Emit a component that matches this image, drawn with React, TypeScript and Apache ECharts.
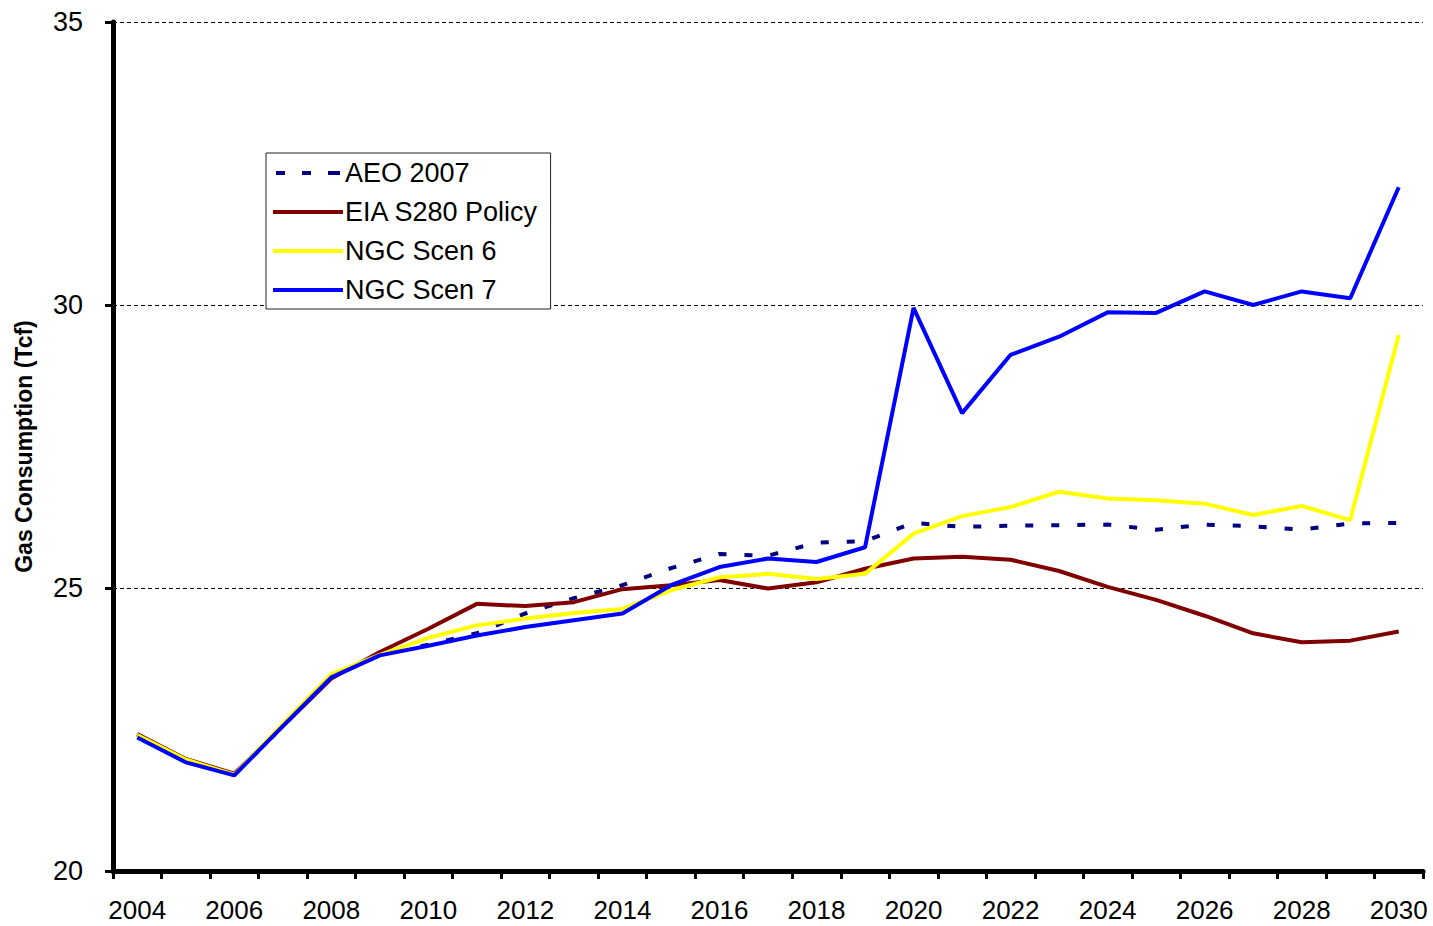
import React, { useEffect, useRef } from "react";
import * as echarts from "echarts";

const years: string[] = [
  "2004", "2005", "2006", "2007", "2008", "2009", "2010", "2011", "2012",
  "2013", "2014", "2015", "2016", "2017", "2018", "2019", "2020", "2021",
  "2022", "2023", "2024", "2025", "2026", "2027", "2028", "2029", "2030",
];

const aeo2007: number[] = [
  22.4, 21.97, 21.7, 22.56, 23.42, 23.82, 24.0, 24.2, 24.55, 24.82, 25.05,
  25.35, 25.6, 25.57, 25.8, 25.83, 26.15, 26.08, 26.1, 26.11, 26.12, 26.03,
  26.12, 26.09, 26.03, 26.14, 26.15,
];

const eiaS280: number[] = [
  22.42, 21.98, 21.72, 22.56, 23.4, 23.87, 24.28, 24.72, 24.68, 24.75, 24.98,
  25.05, 25.14, 24.99, 25.1, 25.34, 25.52, 25.55, 25.5, 25.3, 25.02, 24.79,
  24.51, 24.2, 24.04, 24.07, 24.23,
];

const ngcScen6: number[] = [
  22.4, 21.97, 21.7, 22.6, 23.48, 23.82, 24.12, 24.34, 24.46, 24.56, 24.63,
  24.96, 25.19, 25.25, 25.16, 25.25, 25.96, 26.27, 26.43, 26.7, 26.58, 26.55,
  26.49, 26.29, 26.45, 26.2, 29.47,
];

const ngcScen7: number[] = [
  22.36, 21.92, 21.69, 22.56, 23.42, 23.81, 23.98, 24.16, 24.31, 24.43, 24.55,
  25.05, 25.37, 25.52, 25.46, 25.72, 29.95, 28.09, 29.12, 29.44, 29.87, 29.86,
  30.24, 30.0, 30.24, 30.12, 32.08,
];

const FONT = "'Liberation Sans', Arial, sans-serif";

export default function App() {
  const ref = useRef<HTMLDivElement>(null);

  useEffect(() => {
    if (!ref.current) return;
    const chart = echarts.init(ref.current, undefined, { renderer: "svg" });
    const mk = (name: string, data: number[], color: string, dashed = false) => ({
      name,
      type: "line",
      data,
      symbol: "none",
      showSymbol: false,
      lineStyle: {
        color,
        width: 4,
        type: dashed ? [8, 18] : "solid",
        cap: "butt",
      },
      itemStyle: { color },
    });
    const dashIcon = "path://M0,0h9v4h-9z M26,0h9v4h-9z M52,0h12v4h-12z";
    chart.setOption({
      animation: false,
      backgroundColor: "#ffffff",
      textStyle: { fontFamily: FONT },
      grid: { left: 113, right: 10, top: 22, bottom: 55, containLabel: false },
      legend: {
        orient: "vertical",
        left: 266,
        top: 153,
        backgroundColor: "#ffffff",
        borderColor: "#222222",
        borderWidth: 1,
        borderRadius: 0,
        padding: [4, 12, 3, 7],
        itemGap: 7,
        itemWidth: 70,
        itemHeight: 4,
        textStyle: { fontFamily: FONT, fontSize: 27, color: "#000", lineHeight: 32, padding: [0, 0, 0, -3] },
        data: [
          { name: "AEO 2007", icon: dashIcon },
          { name: "EIA S280 Policy", icon: "rect" },
          { name: "NGC Scen 6", icon: "rect" },
          { name: "NGC Scen 7", icon: "rect" },
        ],
      },
      xAxis: {
        type: "category",
        data: years,
        boundaryGap: true,
        axisLine: { show: true, lineStyle: { color: "#000", width: 5 } },
        axisTick: { show: true, interval: 0, length: 8, lineStyle: { color: "#000", width: 3 } },
        axisLabel: { interval: 1, color: "#000", fontSize: 26, fontFamily: FONT, margin: 26 },
        splitLine: { show: false },
      },
      yAxis: {
        type: "value",
        min: 20,
        max: 35,
        interval: 5,
        name: "Gas Consumption (Tcf)",
        nameLocation: "middle",
        nameRotate: 90,
        nameGap: 78,
        nameTextStyle: { color: "#000", fontSize: 23, fontWeight: "bold", fontFamily: FONT },
        axisLine: { show: true, lineStyle: { color: "#000", width: 5 } },
        axisTick: { show: true, length: 8, lineStyle: { color: "#000", width: 3 } },
        axisLabel: { color: "#000", fontSize: 27, fontFamily: FONT, margin: 30 },
        splitLine: { show: true, lineStyle: { color: "#000", width: 1, type: [4, 3] } },
      },
      series: [
        mk("AEO 2007", aeo2007, "#000080", true),
        mk("EIA S280 Policy", eiaS280, "#800000"),
        mk("NGC Scen 6", ngcScen6, "#FFFF00"),
        mk("NGC Scen 7", ngcScen7, "#0000FF"),
      ],
    });
    return () => chart.dispose();
  }, []);

  return (
    <div
      ref={ref}
      style={{ position: "fixed", left: 0, top: 0, width: 1433, height: 926, background: "#fff" }}
    />
  );
}
